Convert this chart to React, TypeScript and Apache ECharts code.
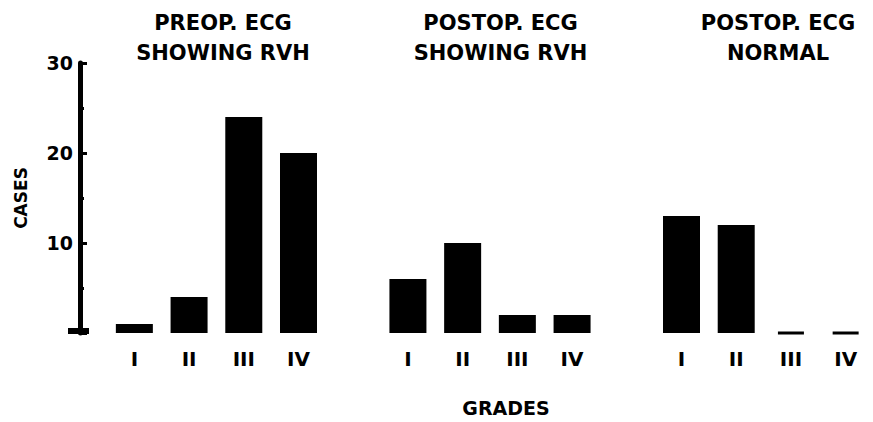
import React, { useEffect, useRef } from "react";
import * as echarts from "echarts";

const grades = ["I", "II", "III", "IV"];
const groupTitles = ["PREOP. ECG\nSHOWING RVH", "POSTOP. ECG\nSHOWING RVH", "POSTOP. ECG\nNORMAL"];
const preopRVH = [1, 4, 24, 20];
const postopRVH = [6, 10, 2, 2];
const postopNormal = [13, 12, 0, 0];
const yTicks = [0, 10, 20, 30];

const FONT = "DejaVu Sans";

export default function App() {
  const ref = useRef<HTMLDivElement>(null);

  useEffect(() => {
    if (!ref.current) return;
    const chart = echarts.init(ref.current, undefined, { renderer: "svg" });

    const groups = [preopRVH, postopRVH, postopNormal];
    const categories: string[] = [];
    const barData: any[] = [];
    const zeroData: any[] = [];
    groups.forEach((g, gi) => {
      if (gi > 0) {
        categories.push(" ".repeat(gi));
        barData.push("-");
      }
      g.forEach((v, i) => {
        const cat = grades[i] + "\u200b".repeat(gi);
        categories.push(cat);
        barData.push(v);
        if (v === 0) zeroData.push([cat, 0]);
      });
    });

    const gridLeft = 107;
    const gridWidth = 777;
    const pitch = gridWidth / categories.length;
    const centerOf = (gi: number) => gridLeft + pitch * (gi * 5 + 2);

    chart.setOption({
      animation: false,
      backgroundColor: "#ffffff",
      textStyle: { fontFamily: FONT },
      title: [
        ...groupTitles.map((t, gi) => ({
          text: t,
          left: centerOf(gi),
          top: 3,
          textAlign: "center",
          textStyle: {
            fontFamily: FONT,
            fontWeight: "bold",
            fontSize: 21,
            lineHeight: 30,
            color: "#000",
          },
        })),
        {
          text: "GRADES",
          left: 501,
          top: 393,
          textAlign: "center",
          textStyle: { fontFamily: FONT, fontWeight: "bold", fontSize: 19, color: "#000" },
        },
      ],
      grid: { left: gridLeft, top: 63, width: gridWidth, height: 270, containLabel: false },
      xAxis: {
        type: "category",
        data: categories,
        axisLine: { show: false },
        axisTick: { show: false },
        axisLabel: {
          interval: 0,
          margin: 16,
          fontFamily: FONT,
          fontWeight: "bold",
          fontSize: 20,
          color: "#000",
          formatter: (v: string) => v.replace(/\u200b/g, "").trim(),
        },
      },
      yAxis: {
        type: "value",
        min: yTicks[0],
        max: yTicks[yTicks.length - 1],
        interval: 10,
        offset: 27,
        name: "CASES",
        nameLocation: "middle",
        nameRotate: 90,
        nameGap: 51,
        nameTextStyle: { fontFamily: FONT, fontWeight: "bold", fontSize: 17, color: "#000" },
        splitLine: { show: false },
        axisLine: { show: true, lineStyle: { color: "#000", width: 5 } },
        axisTick: { show: true, inside: true, length: 7, lineStyle: { color: "#000", width: 3 } },
        minorTick: { show: true, splitNumber: 2, length: 4, lineStyle: { color: "#000", width: 3 } },
        axisLabel: {
          margin: 7,
          fontFamily: FONT,
          fontWeight: "bold",
          fontSize: 19,
          color: "#000",
          formatter: (v: number) => (v > 0 ? String(v) : ""),
        },
      },
      graphic: [
        { type: "rect", shape: { x: 68, y: 328, width: 21, height: 6 }, style: { fill: "#000" } },
      ],
      series: [
        {
          type: "bar",
          data: barData,
          barWidth: 37,
          itemStyle: { color: "#000" },
        },
        {
          type: "scatter",
          data: zeroData,
          symbol: "rect",
          symbolSize: [26, 3],
          itemStyle: { color: "#000", opacity: 1 },
        },
      ],
    });

    return () => chart.dispose();
  }, []);

  return (
    <div
      ref={ref}
      style={{ position: "absolute", left: 0, top: 0, width: 873, height: 422 }}
    />
  );
}
